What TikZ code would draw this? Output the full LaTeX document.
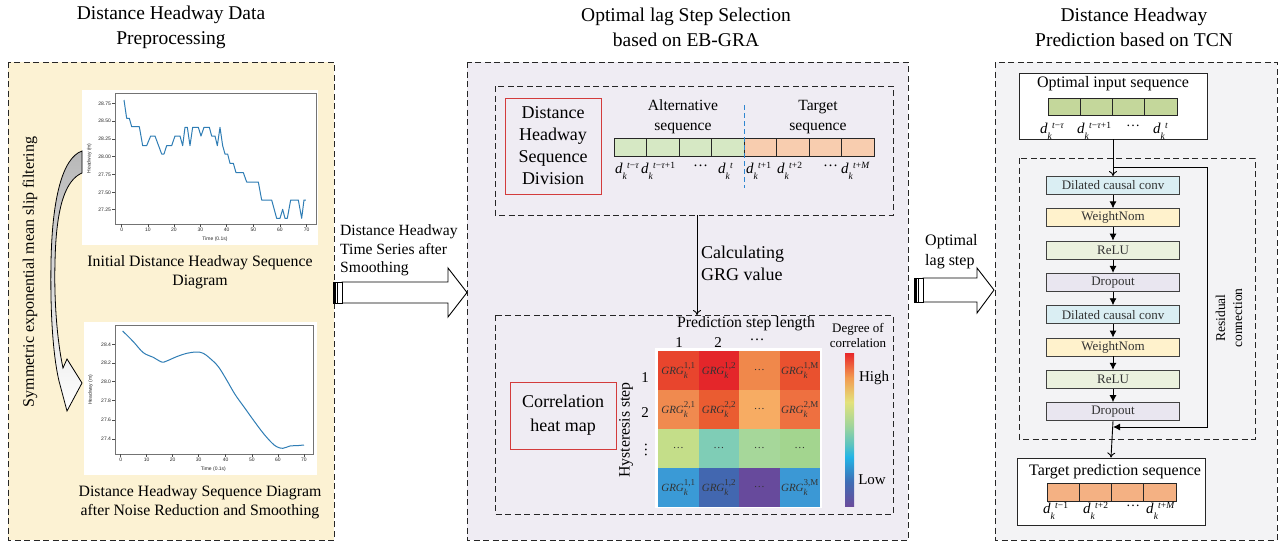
\documentclass[tikz,border=0pt]{standalone}
\usepackage{fontspec}
\setmainfont{Liberation Serif}
\setsansfont{Liberation Sans}
\usetikzlibrary{arrows.meta,calc}
\definecolor{leftbg}{HTML}{FCF2D3}
\definecolor{midbg}{HTML}{EFECF3}
\definecolor{rightbg}{HTML}{F3F3F5}
\definecolor{seqgreen}{HTML}{D6E8C4}
\definecolor{seqpeach}{HTML}{F8CDAF}
\definecolor{optgreen}{HTML}{C4D79B}
\definecolor{tgtorange}{HTML}{F4B183}
\definecolor{dccblue}{HTML}{DAEEF3}
\definecolor{wnyellow}{HTML}{FFF2CC}
\definecolor{relugreen}{HTML}{EBF1DE}
\definecolor{dropc}{HTML}{E9E6F0}
\definecolor{redc}{HTML}{D33B3B}
\definecolor{plotc}{HTML}{2F7DB5}
\definecolor{divblue}{HTML}{2E86D0}
\definecolor{hA}{HTML}{E8452D}
\definecolor{hB}{HTML}{E4262A}
\definecolor{hC}{HTML}{F0884B}
\definecolor{hD}{HTML}{E9512F}
\definecolor{hE}{HTML}{F08A4F}
\definecolor{hF}{HTML}{EA5C31}
\definecolor{hG}{HTML}{F7AC63}
\definecolor{hH}{HTML}{EE7040}
\definecolor{hI}{HTML}{C4DE89}
\definecolor{hJ}{HTML}{7FCDB6}
\definecolor{hK}{HTML}{A6D79A}
\definecolor{hL}{HTML}{A3D58F}
\definecolor{hM}{HTML}{3A9AD6}
\definecolor{hN}{HTML}{4267B0}
\definecolor{hO}{HTML}{674A9C}
\definecolor{hP}{HTML}{3B98D5}
\definecolor{cbRed}{HTML}{E8262A}
\definecolor{cbOrange}{HTML}{F29A50}
\definecolor{cbYellow}{HTML}{E3E27B}
\definecolor{cbGreen}{HTML}{9ED49C}
\definecolor{cbTeal}{HTML}{5BC3C0}
\definecolor{cbCyan}{HTML}{22B4E6}
\definecolor{cbBlue}{HTML}{3E6DB5}
\definecolor{cbPurple}{HTML}{6A4C9C}
\pgfdeclareverticalshading{spectral}{100bp}{color(0bp)=(cbPurple); color(25bp)=(cbPurple); color(33bp)=(cbBlue); color(41bp)=(cbCyan); color(45bp)=(cbTeal); color(51bp)=(cbGreen); color(59bp)=(cbYellow); color(67bp)=(cbOrange); color(75bp)=(cbRed); color(100bp)=(cbRed)}
\newcommand{\dlab}[1]{\textit{d}\raisebox{-0.42em}{\fontsize{9.5}{9.5}\selectfont\textit{k}}\raisebox{0.3em}{\fontsize{9.5}{9.5}\selectfont #1}}
\newcommand{\grg}[1]{\textit{GRG}\rlap{\raisebox{-0.4em}{\fontsize{9}{9}\selectfont\textit{k}}}\raisebox{0.55em}{\fontsize{9}{9}\selectfont #1}}
\tikzset{
  panel/.style={draw=black!85, line width=0.9pt, dash pattern=on 6pt off 3.5pt},
  ttl/.style={align=center, font=\fontsize{19.5}{25}\selectfont, inner sep=0pt},
  txt/.style={align=center, font=\fontsize{15.8}{19}\selectfont, inner sep=0pt},
  rbox/.style={draw=redc, line width=1pt, align=center, font=\fontsize{18}{22}\selectfont, inner sep=0pt},
  seqcell/.style={draw=black!85, line width=0.8pt, minimum width=32.5pt, minimum height=18pt, inner sep=0pt},
  dl/.style={font=\fontsize{15}{15}\selectfont, inner sep=0pt, anchor=base west},
  hcell/.style={minimum width=40.5pt, minimum height=39pt, inner sep=0pt, font=\fontsize{11}{11}\selectfont, text=black!80},
  tcn/.style={draw=black!75, line width=0.9pt, minimum width=133pt, minimum height=18pt, inner sep=0pt, font=\fontsize{13}{13}\selectfont, text=black!80},
  wbox/.style={draw=black!85, line width=0.9pt, fill=white, inner sep=0pt},
  ticklab/.style={font=\fontsize{5}{5}\sffamily, inner sep=0.5pt, text=black!85},
  flowarr/.style={line width=0.9pt, -{Latex[length=7pt,width=7pt]}},
  openarr/.style={line width=0.9pt, -{To[length=5pt,width=8pt]}},
  blockarrow/.style={draw=black, line width=0.9pt, fill=white, line join=miter},
}
\begin{document}
\begin{tikzpicture}[x=1pt,y=-1pt]
\useasboundingbox (0,0) rectangle (1285,546);
\fill[white] (0,0) rectangle (1285,546);

% ---------- titles
\node[ttl] (t1) at (171,27.5) {Distance Headway Data\\Preprocessing};
\node[ttl] (t2) at (686,27.5) {Optimal lag Step Selection\\based on EB-GRA};
\node[ttl] (t3) at (1134,27.5) {Distance Headway\\Prediction based on TCN};

% ---------- panels
\draw[panel, fill=leftbg] (8,62) rectangle (334,540);
\draw[panel, fill=midbg] (467,62) rectangle (908,540);
\draw[panel, fill=rightbg] (995,62) rectangle (1277,540);

% ---------- left panel: plot 1
\begin{scope}[shift={(0,50)},scale=0.33333]
\fill[white] (246,120) rectangle (955,585);
\draw[black!55, line width=0.5pt] (345,130) rectangle (948,522);
\foreach \v/\yy [count=\i] in {28.75/160,28.50/213,28.25/267,28.00/320,27.75/373,27.50/427,27.25/479}{
  \draw[black!70, line width=0.4pt] (345,\yy) -- (337,\yy);
  \node[ticklab, anchor=east] (pay\i) at (335,\yy) {\v};}
\foreach \v/\xx [count=\i] in {0/365,10/444,20/522,30/601,40/680,50/760,60/840,70/920}{
  \draw[black!70, line width=0.4pt] (\xx,522) -- (\xx,530);
  \node[ticklab, anchor=north] (pax\i) at (\xx,532) {\v};}
\node[ticklab] (palx) at (645,567) {Time (0.1s)};
\node[ticklab, rotate=90] (paly) at (268,325) {Headway (m)};
\draw[plotc, line width=1pt, line join=round] (372,150) -- (380,205) -- (388,205) -- (395,230) -- (418,230) -- (428,287) -- (440,287) -- (452,258) -- (465,258) -- (485,312) -- (492,312) -- (500,287) -- (515,287) -- (525,258) -- (540,258) -- (548,287) -- (555,232) -- (562,232) -- (570,287) -- (578,232) -- (595,232) -- (603,258) -- (612,232) -- (628,232) -- (635,258) -- (645,258) -- (652,287) -- (660,232) -- (668,287) -- (675,312) -- (683,312) -- (690,340) -- (700,340) -- (708,368) -- (730,368) -- (740,396) -- (775,396) -- (785,450) -- (815,450) -- (830,505) -- (840,505) -- (848,478) -- (855,505) -- (862,505) -- (872,450) -- (895,450) -- (905,505) -- (912,450) -- (918,450);
\end{scope}

% ---------- left panel: plot 2
\begin{scope}[shift={(0,300)},scale=0.33333]
\fill[white] (252,65) rectangle (950,525);
\draw[black!55, line width=0.5pt] (345,75) rectangle (940,462);
\foreach \v/\yy [count=\i] in {28.4/133,28.2/189,28.0/245,27.8/302,27.6/360,27.4/417}{
  \draw[black!70, line width=0.4pt] (345,\yy) -- (337,\yy);
  \node[ticklab, anchor=east] (pby\i) at (335,\yy) {\v};}
\foreach \v/\xx [count=\i] in {0/362,10/440,20/518,30/596,40/677,50/756,60/834,70/912}{
  \draw[black!70, line width=0.4pt] (\xx,462) -- (\xx,470);
  \node[ticklab, anchor=north] (pbx\i) at (\xx,472) {\v};}
\node[ticklab] (pblx) at (640,507) {Time (0.1s)};
\node[ticklab, rotate=90] (pbly) at (272,270) {Headway (m)};
\draw[plotc, line width=1pt] plot[smooth, tension=0.6] coordinates {(368,93) (400,125) (430,158) (460,172) (485,186) (500,183) (530,170) (560,160) (590,156) (610,160) (630,175) (655,200) (680,240) (705,283) (735,325) (760,360) (790,400) (815,428) (830,440) (848,445) (870,438) (890,437) (912,435)};
\end{scope}

\node[txt] (cap1) at (200,272.5) {Initial Distance Headway Sequence\\Diagram};
\node[txt] (cap2) at (200,502.5) {Distance Headway Sequence Diagram\\after Noise Reduction and Smoothing};
\node[txt, rotate=90, font=\fontsize{16}{16}\selectfont] (sym) at (30,272) {Symmetric exponential mean slip filtering};

% curved arrow
\shade[top color=black!28, bottom color=white, draw=black, line width=0.8pt, line join=miter]
 (82,151) .. controls (62,158) and (52,200) .. (51,263)
 .. controls (50,320) and (54,360) .. (59,381)
 -- (67,411) -- (82,383) -- (67,359) -- (63,368)
 .. controls (57,340) and (54,300) .. (55,263)
 .. controls (56,205) and (66,180) .. (82,173) -- cycle;

% ---------- block arrow 1
\draw[blockarrow] (342,282) -- (448,282) -- (448,268) -- (467,292.5) -- (448,317) -- (448,303) -- (342,303) -- cycle;
\draw[line width=0.8pt, fill=white] (333,282) rectangle (342,303);
\draw[line width=2pt] (334.5,282) -- (334.5,303);
\draw[line width=0.6pt] (337.5,282) -- (337.5,303);
\node[txt, align=left, anchor=west, font=\fontsize{15.6}{18.5}\selectfont] (a1txt) at (340,250.5) {Distance Headway\\Time Series after\\Smoothing};

% ---------- block arrow 2
\draw[blockarrow] (923,278) -- (977,278) -- (977,268) -- (994,290) -- (977,313) -- (977,302) -- (923,302) -- cycle;
\draw[line width=0.8pt, fill=white] (914,278) rectangle (923,302);
\draw[line width=2pt] (915.5,278) -- (915.5,302);
\draw[line width=0.6pt] (918.5,278) -- (918.5,302);
\node[txt, align=left, anchor=west, font=\fontsize{16}{20}\selectfont] (a2txt) at (925,252) {Optimal\\lag step};

% ---------- middle panel
\draw[panel] (495,86) rectangle (893,215);
\node[rbox, minimum width=96pt, minimum height=96pt] (div) at (553,146) {Distance\\Headway\\Sequence\\Division};
\node[txt, font=\fontsize{15.6}{20}\selectfont] (alt) at (683,117) {Alternative\\sequence};
\node[txt, font=\fontsize{15.6}{20}\selectfont] (tgt) at (818,117) {Target\\sequence};
\foreach \c [count=\i] in {seqgreen,seqgreen,seqgreen,seqgreen,seqpeach,seqpeach,seqpeach,seqpeach}{
  \node[seqcell, fill=\c] (sq\i) at ({614+32.5*(\i-0.5)},147) {};}
\coordinate (dv1) at (744,105);
\coordinate (dv2) at (744,188);
\draw[divblue, line width=1pt, dash pattern=on 5pt off 3pt] (dv1) -- (dv2);
\node[dl] (dA) at (615,173) {\dlab{\textit{t}−\textit{τ}}};
\node[dl] (dB) at (641,173) {\dlab{\textit{t}−\textit{τ}+1}};
\node[dl] (dC) at (693,166) {…};
\node[dl] (dD) at (718,173) {\dlab{\textit{t}}};
\node[dl] (dE) at (746,173) {\dlab{\textit{t}+1}};
\node[dl] (dF) at (777,173) {\dlab{\textit{t}+2}};
\node[dl] (dG) at (823,166) {…};
\node[dl] (dH) at (841,173) {\dlab{\textit{t}+\textit{M}}};

\coordinate (ca) at (697,215);
\coordinate (cb) at (697,315);
\draw[openarr] (ca) -- (cb);
\node[txt, align=left, anchor=west, font=\fontsize{18}{22}\selectfont] (calc) at (701,263) {Calculating\\GRG value};

\draw[panel] (495,315) rectangle (893,514);
\node[rbox, minimum width=106pt, minimum height=67pt, font=\fontsize{18}{24}\selectfont] (heat) at (563,415.5) {Correlation\\heat map};
\node[txt] (psl) at (746,324) {Prediction step length};
\node[txt, font=\fontsize{15}{15}\selectfont] (c1) at (679,343) {1};
\node[txt, font=\fontsize{15}{15}\selectfont] (c2) at (718,343) {2};
\node[txt, font=\fontsize{15}{15}\selectfont] (c3) at (757,340) {…};
\node[txt, rotate=90] (hys) at (626,430) {Hysteresis step};
\node[txt, font=\fontsize{15}{15}\selectfont] (r1) at (645,378) {1};
\node[txt, font=\fontsize{15}{15}\selectfont] (r2) at (645,413) {2};
\node[txt, rotate=90, font=\fontsize{15}{15}\selectfont] (r3) at (646,450) {…};

\fill[white] (655,348) rectangle (822,508);
\node[hcell, fill=hA] (h11) at (678.25,370.5) {\grg{1,1}};
\node[hcell, fill=hB] (h12) at (718.75,370.5) {\grg{1,2}};
\node[hcell, fill=hC] (h13) at (759.25,370.5) {…};
\node[hcell, fill=hD] (h14) at (799.75,370.5) {\grg{1,M}};
\node[hcell, fill=hE] (h21) at (678.25,409.5) {\grg{2,1}};
\node[hcell, fill=hF] (h22) at (718.75,409.5) {\grg{2,2}};
\node[hcell, fill=hG] (h23) at (759.25,409.5) {…};
\node[hcell, fill=hH] (h24) at (799.75,409.5) {\grg{2,M}};
\node[hcell, fill=hI] (h31) at (678.25,448.5) {…};
\node[hcell, fill=hJ] (h32) at (718.75,448.5) {…};
\node[hcell, fill=hK] (h33) at (759.25,448.5) {…};
\node[hcell, fill=hL] (h34) at (799.75,448.5) {…};
\node[hcell, fill=hM] (h41) at (678.25,487.5) {\grg{1,1}};
\node[hcell, fill=hN] (h42) at (718.75,487.5) {\grg{1,2}};
\node[hcell, fill=hO] (h43) at (759.25,487.5) {…};
\node[hcell, fill=hP] (h44) at (799.75,487.5) {\grg{3,M}};

\shade[shading=spectral] (845,353) rectangle (854,506);
\node[txt, font=\fontsize{13}{15}\selectfont] (deg) at (858,335.5) {Degree of\\correlation};
\node[txt, font=\fontsize{15}{15}\selectfont] (hi) at (874,378) {High};
\node[txt, font=\fontsize{15}{15}\selectfont] (lo) at (872,480) {Low};

% ---------- right panel
\node[wbox, minimum width=188pt, minimum height=66pt] (inbox) at (1113,106) {};
\node[txt, font=\fontsize{16}{16}\selectfont] (inttl) at (1113,84) {Optimal input sequence};
\foreach \i in {1,...,4}{
  \node[seqcell, fill=optgreen, minimum width=32.25pt, minimum height=17pt] (in\i) at ({1048+32.25*(\i-0.5)},106.5) {};}
\node[dl] (iA) at (1040,133) {\dlab{\textit{t}−\textit{τ}}};
\node[dl] (iB) at (1077,133) {\dlab{\textit{t}−\textit{τ}+1}};
\node[dl, font=\fontsize{14}{14}\selectfont] (iC) at (1126,126) {…};
\node[dl] (iD) at (1153,133) {\dlab{\textit{t}}};

\draw[panel] (1019,158) rectangle (1255,439);
\node[tcn, fill=dccblue] (b1) at (1113,185.5) {Dilated causal conv};
\node[tcn, fill=wnyellow] (b2) at (1113,217.8) {WeightNom};
\node[tcn, fill=relugreen] (b3) at (1113,250.1) {ReLU};
\node[tcn, fill=dropc] (b4) at (1113,282.4) {Dropout};
\node[tcn, fill=dccblue] (b5) at (1113,314.7) {Dilated causal conv};
\node[tcn, fill=wnyellow] (b6) at (1113,347) {WeightNom};
\node[tcn, fill=relugreen] (b7) at (1113,379.3) {ReLU};
\node[tcn, fill=dropc] (b8) at (1113,411.6) {Dropout};
\foreach \a/\b in {b1/b2,b2/b3,b3/b4,b4/b5,b5/b6,b6/b7,b7/b8}{
  \draw[flowarr] (\a) -- (\b);}

\coordinate (rtop) at (1113,167);
\coordinate (rc1) at (1207,167);
\coordinate (rc2) at (1207,427);
\coordinate (rbot) at (1113,427);
\draw[line width=0.9pt] (inbox.south) -- (rtop);
\draw[openarr] (rtop) -- (b1.north);
\draw[flowarr] (rtop) -- (rc1) -- (rc2) -- (rbot);
\node[txt, rotate=90, font=\fontsize{13.5}{17}\selectfont] (resid) at (1229,318) {Residual\\connection};

\node[wbox, minimum width=188pt, minimum height=67pt] (tbox) at (1111,491.5) {};
\draw[openarr] (b8.south) -- (tbox.north);
\node[txt, font=\fontsize{16}{16}\selectfont] (tttl) at (1115,472) {Target prediction sequence};
\foreach \i in {1,...,4}{
  \node[seqcell, fill=tgtorange, minimum width=32.25pt, minimum height=18pt] (tc\i) at ({1047+32.25*(\i-0.5)},492) {};}
\node[dl] (tA) at (1043,513) {\dlab{\textit{t}−1}};
\node[dl] (tB) at (1083,513) {\dlab{\textit{t}+2}};
\node[dl, font=\fontsize{14}{14}\selectfont] (tC) at (1126,506) {…};
\node[dl] (tD) at (1146,513) {\dlab{\textit{t}+\textit{M}}};
\end{tikzpicture}
\end{document}
